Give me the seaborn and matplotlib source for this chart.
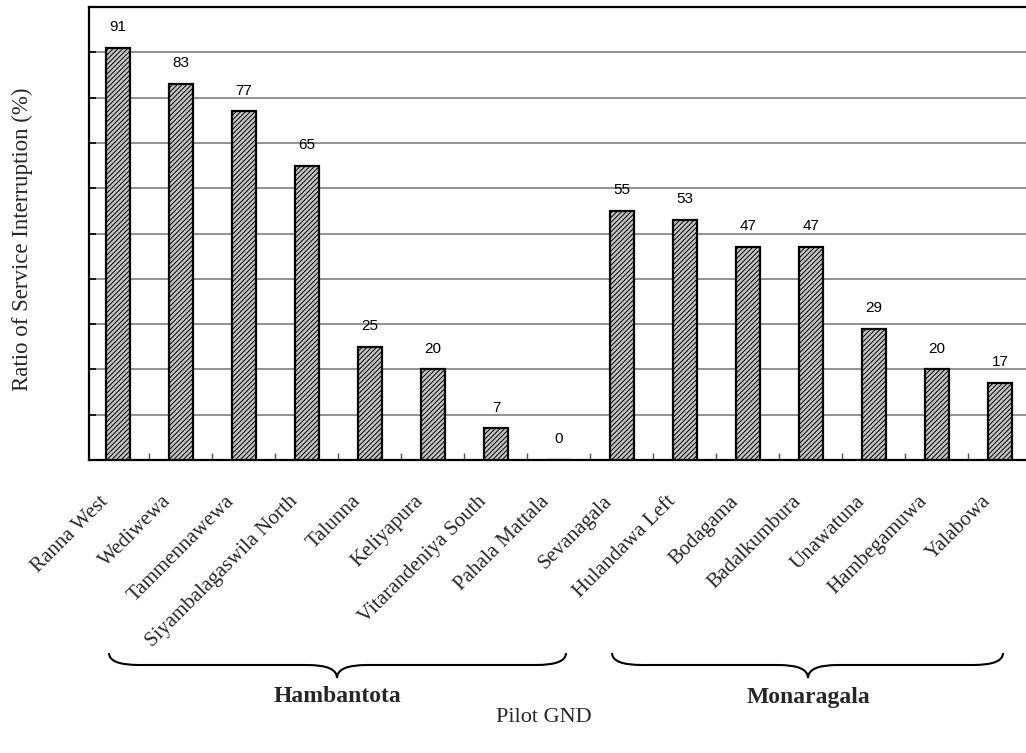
import matplotlib
matplotlib.use("Agg")
import matplotlib.pyplot as plt
from matplotlib.path import Path
from matplotlib.patches import PathPatch
from matplotlib.transforms import ScaledTranslation
import seaborn as sns
import pandas as pd

# Pilot GNDs grouped by district
hambantota_gnd = ["Ranna West", "Wediwewa", "Tammennawewa", "Siyambalagaswila North",
                  "Talunna", "Keliyapura", "Vitarandeniya South", "Pahala Mattala"]
hambantota_ratio = [91, 83, 77, 65, 25, 20, 7, 0]
monaragala_gnd = ["Sevanagala", "Hulandawa Left", "Bodagama", "Badalkumbura",
                  "Unawatuna", "Hambegamuwa", "Yalabowa"]
monaragala_ratio = [55, 53, 47, 47, 29, 20, 17]
districts = ["Hambantota", "Monaragala"]

gnd = hambantota_gnd + monaragala_gnd
ratio = hambantota_ratio + monaragala_ratio
df = pd.DataFrame({"gnd": gnd, "ratio": ratio})

sns.set_theme(style="white")
plt.rcParams["hatch.color"] = "#303030"
plt.rcParams["hatch.linewidth"] = 0.7
serif = "Liberation Serif"
sans = "Liberation Sans"

W, H = 1026, 753
fig = plt.figure(figsize=(W / 100, H / 100), dpi=100)
ax_left, ax_top, ax_bottom, slot = 89, 7, 460, 63.0
ax = fig.add_axes([ax_left / W, 1 - ax_bottom / H,
                   (W - ax_left) / W, (ax_bottom - ax_top) / H])

sns.barplot(data=df, x="gnd", y="ratio", order=gnd, color="white",
            edgecolor="black", linewidth=1.6, width=0.38, saturation=1,
            ax=ax, zorder=3)
for p in ax.patches:
    p.set_facecolor("#c4c4c4")
    p.set_hatch("///////")

ax.set_ylim(0, 100)
x0 = -0.46
ax.set_xlim(x0, x0 + (W - ax_left) / slot)
ax.set_yticks(range(0, 101, 10))
ax.set_yticklabels([])
ax.yaxis.grid(True, color="#7f7f7f", linewidth=1.2, zorder=0)
ax.xaxis.grid(False)

for side in ["left", "bottom", "top"]:
    ax.spines[side].set_visible(True)
    ax.spines[side].set_color("black")
    ax.spines[side].set_linewidth(1.6)
ax.spines["right"].set_visible(False)

ax.tick_params(axis="y", direction="in", length=5, width=1.2, color="black", left=True)
ax.set_xticks(range(len(gnd)))
ax.set_xticks([i + 0.5 for i in range(len(gnd) - 1)], minor=True)
ax.tick_params(axis="x", which="major", length=0, pad=23)
ax.tick_params(axis="x", which="minor", direction="in", length=5, width=1.0,
               color="#555555", bottom=True)
ax.set_xticklabels(gnd, rotation=45, ha="right", rotation_mode="anchor",
                   fontfamily=serif, fontsize=15)
shift = ScaledTranslation(-19 / 100, 0, fig.dpi_scale_trans)
for lab in ax.get_xticklabels():
    lab.set_transform(lab.get_transform() + shift)
ax.set_xlabel("")
ax.set_ylabel("")

# value labels above each bar
for i, v in enumerate(ratio):
    ax.text(i, v + 3.0, f"{v}", ha="center", va="bottom",
            fontfamily=sans, fontsize=11, color="black", zorder=4)

fig.text(22 / W, 1 - 239 / H, "Ratio of Service Interruption (%)", rotation=90,
         ha="center", va="center", fontfamily=serif, fontsize=16.5)
fig.text(544 / W, 1 - 718 / H, "Pilot GND", ha="center", va="center",
         fontfamily=serif, fontsize=16)


def brace(x0, x1, xc, yt, ym, yb, r=30):
    pts = [(x0, yt), (x0, ym), (x0 + r, ym),
           (xc - r, ym), (xc, ym), (xc, yb),
           (xc, ym), (xc + r, ym),
           (x1 - r, ym), (x1, ym), (x1, yt)]
    codes = [Path.MOVETO, Path.CURVE3, Path.CURVE3,
             Path.LINETO, Path.CURVE3, Path.CURVE3,
             Path.CURVE3, Path.CURVE3,
             Path.LINETO, Path.CURVE3, Path.CURVE3]
    verts = [(x / W, 1 - y / H) for x, y in pts]
    fig.add_artist(PathPatch(Path(verts, codes), transform=fig.transFigure,
                             fill=False, edgecolor="black", linewidth=1.5))


brace(109, 566, 337, 653, 665, 678)
brace(612, 1003, 808, 653, 665, 678)
fig.text(337 / W, 1 - 697 / H, districts[0], ha="center", va="center",
         fontfamily=serif, fontsize=17, fontweight="bold")
fig.text(808 / W, 1 - 697 / H, districts[1], ha="center", va="center",
         fontfamily=serif, fontsize=17, fontweight="bold")

fig.savefig("out.png", dpi=100, facecolor="white")
